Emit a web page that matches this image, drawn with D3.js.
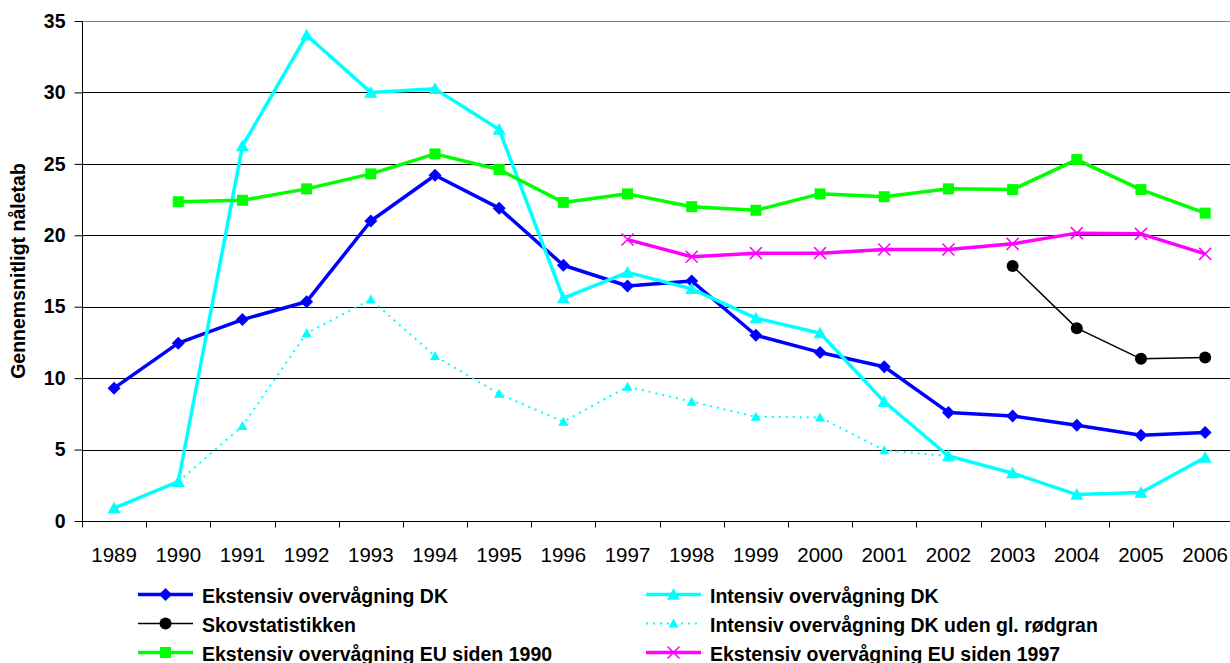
<!DOCTYPE html>
<html>
<head>
<meta charset="utf-8">
<script src="https://cdn.jsdelivr.net/npm/d3@7"></script>
<style>
  html, body { margin: 0; padding: 0; background: #fff; overflow: hidden; }
  svg { display: block; font-family: "Liberation Sans", Arial, sans-serif; }
</style>
</head>
<body>
<svg id="chart" width="1230" height="663"></svg>
<script>
// ---- data ----
const years = ["1989","1990","1991","1992","1993","1994","1995","1996","1997","1998","1999","2000","2001","2002","2003","2004","2005","2006"];
const ekstensivDK = [9.3,12.45,14.1,15.35,21.0,24.2,21.9,17.9,16.45,16.8,13.0,11.8,10.8,7.6,7.35,6.7,6.0,6.2];
const intensivDK = [0.9,2.75,26.25,34.0,30.0,30.25,27.4,15.6,17.4,16.25,14.2,13.15,8.35,4.55,3.35,1.85,2.0,4.45];
const skovstatistikken = [null,null,null,null,null,null,null,null,null,null,null,null,null,null,17.85,13.5,11.35,11.45];
const intensivUdenRodgran = [null,2.75,6.65,13.15,15.5,11.55,8.9,6.95,9.4,8.35,7.3,7.25,4.95,4.55,null,null,null,null];
const ekstensivEU1990 = [null,22.35,22.45,23.25,24.3,25.7,24.6,22.3,22.9,22.0,21.75,22.9,22.7,23.25,23.2,25.3,23.2,21.55];
const ekstensivEU1997 = [null,null,null,null,null,null,null,null,19.7,18.5,18.75,18.75,19.0,19.0,19.4,20.15,20.1,18.7];
const yTicks = [0,5,10,15,20,25,30,35];
const yTitle = "Gennemsnitligt nåletab";

const series = [
  {name:"Ekstensiv overvågning DK", values: ekstensivDK, color:"#0000FF", width:3.5, dash:null, marker:"diamond", msize:13},
  {name:"Intensiv overvågning DK", values: intensivDK, color:"#00FFFF", width:3.5, dash:null, marker:"triangle", msize:13},
  {name:"Skovstatistikken", values: skovstatistikken, color:"#000000", width:1.5, dash:null, marker:"circle", msize:12},
  {name:"Intensiv overvågning DK uden gl. rødgran", values: intensivUdenRodgran, color:"#00FFFF", width:2, dash:"2,5", marker:"triangle", msize:10},
  {name:"Ekstensiv overvågning EU siden 1990", values: ekstensivEU1990, color:"#00FF00", width:3.5, dash:null, marker:"square", msize:11},
  {name:"Ekstensiv overvågning EU siden 1997", values: ekstensivEU1997, color:"#FF00FF", width:3.5, dash:null, marker:"cross", msize:12}
];

// ---- layout ----
const svg = d3.select("#chart");
const plotLeft = 82, plotTop = 21, plotBottom = 521, band = 64.18;
const plotRight = plotLeft + band * years.length;

const x = d3.scaleBand().domain(years).range([plotLeft, plotRight]).padding(0);
const y = d3.scaleLinear().domain([0, 35]).range([plotBottom, plotTop]);
const cx = d => x(d) + x.bandwidth() / 2;

// gridlines
svg.append("g").selectAll("line").data(yTicks.filter(t => t > 0)).join("line")
  .attr("x1", plotLeft).attr("x2", plotRight)
  .attr("y1", d => Math.round(y(d)) + 0.5).attr("y2", d => Math.round(y(d)) + 0.5)
  .attr("stroke", d => d === 35 ? "#808080" : "#000").attr("stroke-width", 1);

// y axis
const yAxis = svg.append("g").attr("transform", `translate(${plotLeft + 0.5},0)`)
  .call(d3.axisLeft(y).tickValues(yTicks).tickSize(8).tickPadding(9));
yAxis.select(".domain").attr("stroke", "#000").attr("d", `M0,${Math.round(y(0))+0.5}V${Math.round(y(35))+0.5}`);
yAxis.selectAll("text").attr("font-size", 19.5).attr("font-weight", "bold").attr("fill", "#000")
  .attr("font-family", "Liberation Sans, Arial, sans-serif");
yAxis.selectAll(".tick line").attr("stroke", "#000");

// x axis
const xAxisG = svg.append("g").attr("transform", `translate(0,${Math.round(plotBottom) + 0.5})`);
xAxisG.append("line").attr("x1", plotLeft).attr("x2", plotRight).attr("stroke", "#000");
xAxisG.selectAll("line.tk").data(years.concat(["end"])).join("line").attr("class","tk")
  .attr("x1", (d, i) => Math.round(plotLeft + i * x.step()) + 0.5)
  .attr("x2", (d, i) => Math.round(plotLeft + i * x.step()) + 0.5)
  .attr("y1", 0).attr("y2", 6).attr("stroke", "#000");
xAxisG.selectAll("text").data(years).join("text")
  .attr("x", d => cx(d)).attr("y", 40)
  .attr("text-anchor", "middle").attr("font-size", 20.5).attr("fill", "#000")
  .text(d => d);

// y title
svg.append("text")
  .attr("transform", `translate(25,${(plotTop + plotBottom) / 2}) rotate(-90)`)
  .attr("text-anchor", "middle").attr("font-size", 19.5).attr("font-weight", "bold")
  .text(yTitle);

// markers
function markerPath(type, s) {
  const h = s / 2;
  switch (type) {
    case "diamond": return `M0,${-h}L${h},0L0,${h}L${-h},0Z`;
    case "square": return `M${-h},${-h}H${h}V${h}H${-h}Z`;
    case "triangle": return `M0,${-h}L${h},${h*0.8}L${-h},${h*0.8}Z`;
    case "circle": return `M${h},0A${h},${h},0,1,1,${-h},0A${h},${h},0,1,1,${h},0Z`;
    case "cross": return `M${-h},${-h}L${h},${h}M${-h},${h}L${h},${-h}`;
  }
}

const line = d3.line().defined(d => d.v != null).x(d => cx(d.year)).y(d => y(d.v));

series.forEach(s => {
  const pts = years.map((yr, i) => ({year: yr, v: s.values[i]}));
  const g = svg.append("g");
  g.append("path").datum(pts).attr("d", line)
    .attr("fill", "none").attr("stroke", s.color).attr("stroke-width", s.width)
    .attr("stroke-dasharray", s.dash).attr("stroke-linejoin", "round");
  g.selectAll("path.m").data(pts.filter(d => d.v != null)).join("path").attr("class", "m")
    .attr("transform", d => `translate(${cx(d.year)},${y(d.v)})`)
    .attr("d", markerPath(s.marker, s.msize))
    .attr("fill", s.marker === "cross" ? "none" : s.color)
    .attr("stroke", s.color).attr("stroke-width", s.marker === "cross" ? 1.5 : 0);
});

// legend
const legendCols = [{lx: 138, tx: 202}, {lx: 646, tx: 710}];
const legendRows = [594.5, 623.5, 652.5];
series.forEach((s, i) => {
  const col = legendCols[i % 2], row = legendRows[Math.floor(i / 2)];
  const g = svg.append("g");
  g.append("line").attr("x1", col.lx).attr("x2", col.lx + 55).attr("y1", row).attr("y2", row)
    .attr("stroke", s.color).attr("stroke-width", s.width).attr("stroke-dasharray", s.dash);
  g.append("path").attr("transform", `translate(${col.lx + 27.5},${row})`)
    .attr("d", markerPath(s.marker, s.msize))
    .attr("fill", s.marker === "cross" ? "none" : s.color)
    .attr("stroke", s.color).attr("stroke-width", s.marker === "cross" ? 1.5 : 0);
  g.append("text").attr("x", col.tx).attr("y", row + 8)
    .attr("font-size", 19.5).attr("font-weight", "bold").attr("fill", "#000")
    .text(s.name);
});
</script>
</body>
</html>
